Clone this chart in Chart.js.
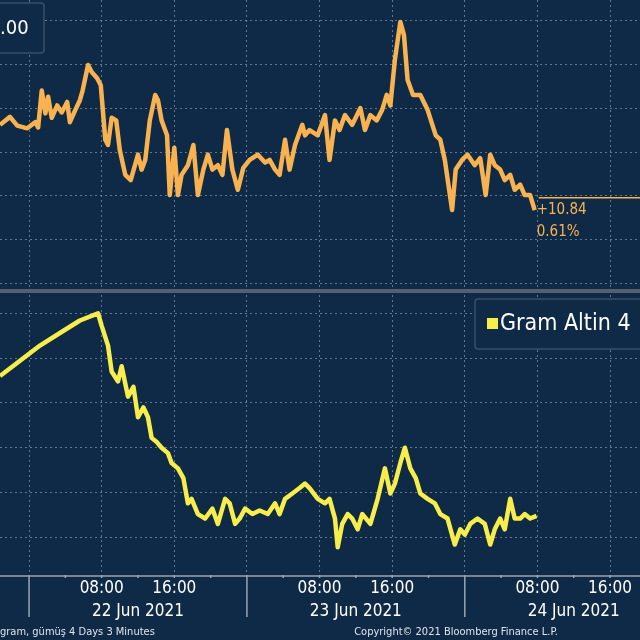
<!DOCTYPE html>
<html><head><meta charset="utf-8">
<script src="https://cdn.jsdelivr.net/npm/chart.js@4"></script>
<style>html,body{margin:0;padding:0;background:#0f2a47;}#w{width:640px;height:640px;}</style>
</head><body><div id="w"><canvas id="c"></canvas></div>
<script>
// hours since 22 Jun 2021 00:00
const topHours=[-3.2,-2.1,-1.3,-0.2,0.7,1.0,1.4,1.8,2.1,2.5,3.1,3.6,4.2,4.5,5.1,5.6,5.9,6.5,6.9,7.5,7.9,8.4,8.7,9.1,9.6,10.0,10.6,11.2,12.0,12.4,12.8,13.3,13.9,14.2,14.6,15.2,15.5,16.0,16.4,16.8,17.5,18.1,18.6,19.2,19.7,20.2,20.8,21.3,21.8,22.4,23.0,23.6,24.3,25.2,26.0,26.5,27.1,27.6,28.2,28.7,29.3,30.1,30.4,30.9,31.8,32.6,33.1,33.7,34.2,34.8,35.6,36.5,37.0,37.6,38.3,38.9,39.4,39.8,40.3,40.9,41.3,41.7,42.3,43.1,43.9,44.8,45.3,45.8,46.6,47.0,47.7,48.3,49.1,49.7,50.3,50.8,51.3,51.9,52.4,53.0,53.5,54.1,54.6,55.2,55.7];
const topValues=[1788.1,1789.0,1788.0,1787.7,1788.4,1787.8,1792.0,1789.4,1791.3,1788.9,1790.3,1789.5,1790.7,1788.4,1789.8,1790.9,1792.0,1794.9,1794.1,1793.4,1792.6,1786.4,1785.8,1788.9,1788.6,1785.2,1782.4,1781.8,1784.7,1783.0,1784.1,1788.6,1791.5,1790.9,1788.6,1786.9,1780.1,1785.5,1780.1,1782.4,1783.5,1785.8,1780.1,1783.0,1784.7,1783.0,1783.5,1782.4,1787.5,1783.0,1780.7,1783.2,1784.1,1784.7,1783.8,1784.1,1783.0,1782.4,1786.4,1783.0,1785.8,1788.1,1786.9,1787.5,1786.9,1789.2,1784.1,1788.6,1787.5,1789.2,1788.1,1790.0,1787.5,1789.2,1788.6,1789.8,1791.5,1790.3,1795.5,1799.8,1798.3,1793.2,1791.5,1791.5,1789.8,1786.9,1786.4,1784.1,1778.4,1783.0,1784.1,1784.7,1783.5,1784.3,1780.1,1784.7,1783.5,1783.0,1781.8,1782.4,1780.7,1781.3,1780.1,1780.1,1778.4];
const botHours=[-3.2,-1.0,1.2,3.4,5.6,7.6,8.0,8.7,9.1,9.8,10.2,10.9,11.5,12.0,12.6,13.1,13.5,14.1,14.6,15.3,15.7,16.4,17.0,17.5,17.9,18.6,19.4,20.2,20.8,21.6,22.1,22.7,23.2,23.8,24.6,25.4,26.3,27.1,27.6,28.2,29.0,29.8,30.4,30.9,31.8,32.6,33.1,33.7,34.0,34.5,35.1,35.6,36.2,36.7,37.6,38.4,39.2,39.8,40.3,40.9,41.4,42.0,42.6,43.1,43.9,44.7,45.3,46.1,46.9,47.5,48.0,48.6,49.4,50.2,50.8,51.3,51.9,52.4,53.0,53.5,54.1,54.6,55.2,55.9];
const botValues=[503.0,504.7,506.4,507.8,509.2,510.0,508.6,506.4,503.5,502.4,504.1,500.7,501.8,498.4,499.5,498.4,496.1,495.6,495.0,494.4,493.3,492.7,491.6,488.8,489.3,487.6,487.1,488.2,486.5,489.3,488.8,486.5,487.1,488.2,487.6,488.0,487.6,488.8,487.6,489.3,489.9,490.5,491.0,490.5,489.3,488.8,489.3,487.1,483.9,486.5,487.6,487.1,485.9,487.6,486.5,489.3,492.7,489.9,491.0,493.3,495.0,492.7,491.6,489.9,489.3,488.8,487.6,487.1,484.2,485.9,485.3,486.5,487.1,486.5,484.2,485.9,487.1,485.9,489.3,487.1,487.1,487.6,487.1,487.4];
const dayStarts=[0,24,48];
const dayLabels=['22 Jun 2021','23 Jun 2021','24 Jun 2021'];
const hourLabels=[[8,'08:00'],[16,'16:00']];
const changeText=['+10.84','0.61%'];
const legendText='Gram Altin 4';

const BG='#0f2a47',OR='#f8b350',YE='#f7ee4c',GRID='rgba(150,170,195,0.6)';
const FONT='"DejaVu Sans Condensed","DejaVu Sans",sans-serif';
const deco={id:'deco',
 beforeDraw(ch){const c=ch.ctx;c.save();c.fillStyle=BG;c.fillRect(0,0,ch.width,ch.height);c.restore();},
 afterDraw(ch){
  const c=ch.ctx,x=ch.scales.x,y=ch.scales.yt,ca=ch.chartArea;c.save();
  c.fillStyle='#55606c';c.fillRect(0,y.bottom-1,640,4);
  c.fillStyle=BG;c.strokeStyle='#3a4f68';c.lineWidth=1.5;
  c.beginPath();c.roundRect(-10,3,54,50,3);c.fill();c.stroke();
  c.fillStyle='#fff';c.font='20px '+FONT;c.textBaseline='middle';c.textAlign='left';c.fillText('.00',0,29);
  const lx=x.getPixelForValue(topHours[topHours.length-1]);
  const ly=y.getPixelForValue(1779.8);
  c.strokeStyle=OR;c.lineWidth=1.6;c.beginPath();c.moveTo(lx+4,ly);c.lineTo(640,ly);c.stroke();
  c.fillStyle=OR;c.font='15px '+FONT;c.fillText(changeText[0],lx+2,ly+12);c.fillText(changeText[1],lx+2,ly+34);
  c.fillStyle=BG;c.strokeStyle='#3a4f68';c.lineWidth=1.5;
  c.beginPath();c.roundRect(475,299,180,50,3);c.fill();c.stroke();
  c.fillStyle=YE;c.fillRect(487,318,11,11);
  c.fillStyle='#fff';c.font='23px '+FONT;c.fillText(legendText,500,324);
  const b=ca.bottom;
  c.strokeStyle='#9aa6b4';c.lineWidth=1.5;c.beginPath();c.moveTo(0,b+1);c.lineTo(640,b+1);c.stroke();
  for(const d of dayStarts){const px=x.getPixelForValue(d);c.beginPath();c.moveTo(px,b);c.lineTo(px,b+42);c.stroke();
   for(const h of [4,8,12,16,20]){const q=x.getPixelForValue(d+h);c.beginPath();c.moveTo(q,b);c.lineTo(q,b+3);c.stroke();}}
  c.fillStyle='#fff';c.font='17px '+FONT;c.textAlign='center';
  dayStarts.forEach((d,i)=>{
   for(const [h,t] of hourLabels)c.fillText(t,x.getPixelForValue(d+h),b+14);
   c.fillText(dayLabels[i],x.getPixelForValue(d+12),b+37);});
  c.font='11px '+FONT;c.fillStyle='#dfe4ea';c.textAlign='left';
  c.fillText('gram, gümüş 4 Days 3 Minutes',0,632);
  c.textAlign='center';c.fillText('Copyright© 2021 Bloomberg Finance L.P.',456,632);
  c.restore();}};
const grid={color:GRID,lineWidth:1,drawTicks:false};
const bord={display:false,dash:[2,3]};
new Chart(document.getElementById('c'),{type:'line',
 data:{datasets:[
  {data:topHours.map((h,i)=>({x:h,y:topValues[i]})),yAxisID:'yt',borderColor:OR,borderWidth:4.5,pointRadius:0,tension:0,borderJoinStyle:'round'},
  {data:botHours.map((h,i)=>({x:h,y:botValues[i]})),yAxisID:'yb',borderColor:YE,borderWidth:4.5,pointRadius:0,tension:0,borderJoinStyle:'round'}]},
 options:{responsive:true,maintainAspectRatio:false,animation:false,
  layout:{padding:{left:0,right:0,top:0,bottom:65}},
  plugins:{legend:{display:false},tooltip:{enabled:false}},
  scales:{
   x:{type:'linear',min:-3.2,max:67.3,ticks:{display:false},afterBuildTicks(s){s.ticks=[];for(let v=0;v<=64;v+=8)s.ticks.push({value:v});},
      grid:grid,border:bord},
   yb:{stack:'v',stackWeight:285,min:480.8,max:512.6,position:'left',ticks:{display:false},
      afterBuildTicks(s){s.ticks=[485,490,495,500,505,510].map(v=>({value:v}));},grid:grid,border:bord},
   yt:{stack:'v',stackWeight:290,min:1769.3,max:1802.3,position:'left',ticks:{display:false},
      afterBuildTicks(s){s.ticks=[1770,1775,1780,1785,1790,1795,1800].map(v=>({value:v}));},grid:grid,border:bord}
  }},
 plugins:[deco]});
</script></body></html>
